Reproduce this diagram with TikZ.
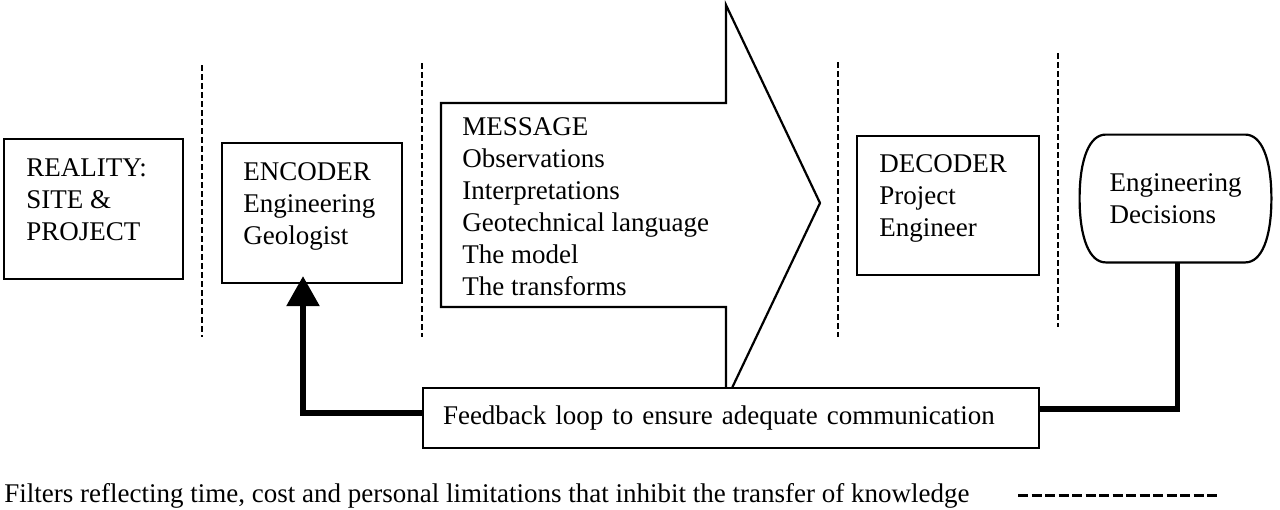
\documentclass[tikz,border=0pt]{standalone}
\usepackage{fontspec}
\setmainfont{Liberation Serif}
\usetikzlibrary{arrows.meta}

\begin{document}
\begin{tikzpicture}[x=0.5pt,y=-0.5pt,
    font=\fontsize{13.5pt}{16pt}\selectfont,
    box/.style={draw,line width=1.1pt,minimum width=90pt,minimum height=70pt,inner sep=0pt},
    txt/.style={anchor=north west,align=left,inner sep=0pt},
    filter/.style={line width=1.4pt,dash pattern=on 3pt off 1.5pt},
    feedback/.style={line width=2.8pt}]
  \useasboundingbox (0,0) rectangle (1280,509);
  \foreach \x/\a/\b in {202/65/337,422/63/337,838/62/337,1058/53/327}
    \draw[filter] (\x,\a) -- (\x,\b);

  \node[box,minimum width=89.5pt] (reality) at (93.5,209) {};
  \node[txt] (realitytxt) at (26,158) {REALITY:\\SITE \&\\PROJECT};
  \node[box] (enc) at (312,213) {};
  \node[txt] (enctxt) at (243,162) {ENCODER\\Engineering\\Geologist};
  \draw[line width=1.1pt] (732,388) -- (820,203) -- (726,5) -- (726,103) -- (441,103)
      -- (441,307) -- (726,307) -- (726,388);
  \node[txt] (msg) at (462,117) {MESSAGE\\Observations\\Interpretations\\Geotechnical language\\The model\\The transforms};
  \node[box,minimum width=91pt,minimum height=69.5pt] (dec) at (948,205.5) {};
  \node[txt] (dectxt) at (879,154) {DECODER\\Project\\Engineer};
  \node[minimum width=95.5pt,minimum height=63.5pt,inner sep=0pt,align=left] (decis) at (1175.5,198.5) {Engineering\\Decisions};
  \draw[line width=1.1pt] ([shift={(26,0)}]decis.north west) -- ([shift={(-26,0)}]decis.north east)
      .. controls ([shift={(-10,0)}]decis.north east) and ([shift={(0,-40)}]decis.east) .. (decis.east)
      .. controls ([shift={(0,40)}]decis.east) and ([shift={(-10,0)}]decis.south east) .. ([shift={(-26,0)}]decis.south east)
      -- ([shift={(26,0)}]decis.south west)
      .. controls ([shift={(10,0)}]decis.south west) and ([shift={(0,40)}]decis.west) .. (decis.west)
      .. controls ([shift={(0,-40)}]decis.west) and ([shift={(10,0)}]decis.north west) .. cycle;

  \node[draw,fill=white,line width=1.1pt,minimum height=30pt,inner xsep=10pt,
      text width=288pt,align=left] (fb) at (731,418) {Feedback loop to ensure adequate communication};
  \draw[feedback,-{Triangle[width=16pt,length=15pt]}] ([yshift=2.5pt]fb.west) -| ([xshift=-4.5pt,yshift=4pt]enc.south);
  \draw[feedback] ([yshift=4.5pt]fb.east) -| ([xshift=1pt]decis.south);

  \node[anchor=base west,inner sep=0pt] (filt) at (4,502) {Filters reflecting time, cost and personal limitations that inhibit the transfer of knowledge};
  \draw[filter,line width=1.5pt,dash pattern=on 5pt off 1.75pt] (1018,495) -- (1220,495);
\end{tikzpicture}
\end{document}
